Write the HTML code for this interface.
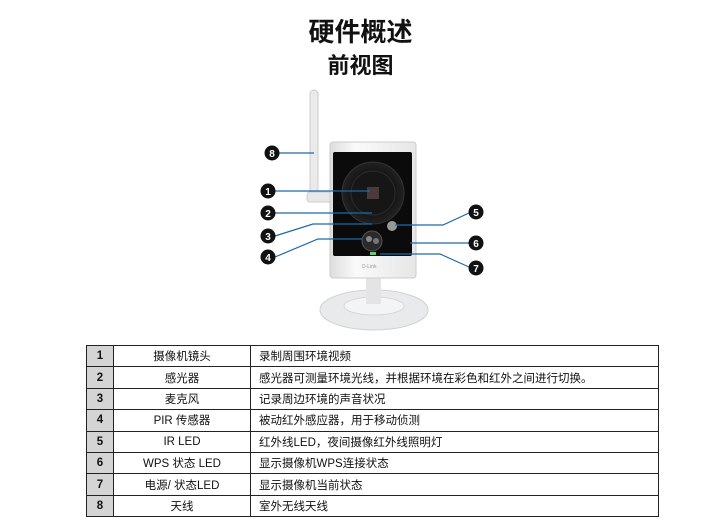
<!DOCTYPE html>
<html><head><meta charset="utf-8"><style>
body{margin:0;width:721px;height:520px;background:#fff;position:relative;font-family:"Liberation Sans","Noto Sans CJK SC",sans-serif;overflow:hidden}
.t{position:absolute;left:0;width:721px;text-align:center;color:#111}
table{position:absolute;left:86px;top:345px;border-collapse:collapse;font-size:11.5px;color:#111}
td{border:1px solid #222;height:20.4px;padding:0}
td.n{width:26px;background:#d4d4d4;text-align:center;font-weight:bold}
td.a{width:136px;text-align:center}
td.b{width:399px;padding-left:8px}
</style></head><body>
<div class="t" style="top:12px;font-size:26px;font-weight:bold">硬件概述</div>
<div class="t" style="top:48px;font-size:22px;font-weight:bold">前视图</div>
<svg width="721" height="340" style="position:absolute;left:0;top:0">
<defs><radialGradient id="lg" cx="50%" cy="50%" r="50%"><stop offset="0" stop-color="#3a3a3a"/><stop offset="0.6" stop-color="#111"/><stop offset="1" stop-color="#222"/></radialGradient>
<linearGradient id="bd" x1="0" x2="1"><stop offset="0" stop-color="#ddd"/><stop offset="0.3" stop-color="#fafafa"/><stop offset="1" stop-color="#e6e6e6"/></linearGradient></defs>
<ellipse cx="374" cy="310" rx="54" ry="20" fill="#e9eaec" stroke="#cfd2d6"/>
<ellipse cx="374" cy="306" rx="30" ry="9" fill="#f4f4f5" stroke="#d8d8da"/>
<rect x="366" y="276" width="15" height="28" fill="#e4e4e6"/>
<rect x="310" y="90" width="8" height="112" rx="4" fill="#eaeaea" stroke="#ccc"/>
<rect x="307" y="192" width="26" height="10" rx="3" fill="#e8e8e8" stroke="#ccc"/>
<rect x="330" y="142" width="86" height="136" rx="3" fill="url(#bd)" stroke="#ccc"/>
<rect x="333" y="152" width="79" height="104" rx="2" fill="#0b0b0b"/>
<circle cx="373" cy="193" r="31" fill="url(#lg)" stroke="#333"/>
<circle cx="373" cy="193" r="22" fill="#161616" stroke="#2c2c2c"/>
<rect x="367" y="187" width="12" height="12" fill="#4a3a3a"/>
<circle cx="372" cy="241" r="10" fill="#2a2a2a" stroke="#555"/>
<circle cx="369" cy="239" r="3" fill="#888"/><circle cx="376" cy="241" r="3" fill="#777"/>
<circle cx="392" cy="226" r="5" fill="#999"/>
<rect x="370" y="252" width="6" height="3" fill="#6c6"/>
<text x="362" y="268" font-size="5" fill="#999">D-Link</text>
<g stroke="#1e6aa8" stroke-width="1.2" fill="none">
<path d="M279 153H314"/><path d="M275 191H370"/><path d="M275 213H372"/>
<path d="M275 236L313 224H372"/><path d="M275 257L318 239H362"/>
<path d="M469 213L443 225H395"/><path d="M469 243H410"/><path d="M469 267L440 254H380"/>
</g>
<g font-size="10" font-weight="bold" fill="#fff" text-anchor="middle">
<circle cx="272" cy="153" r="7.5" fill="#111"/><text x="272" y="157">8</text>
<circle cx="268" cy="191" r="7.5" fill="#111"/><text x="268" y="195">1</text>
<circle cx="268" cy="213" r="7.5" fill="#111"/><text x="268" y="217">2</text>
<circle cx="268" cy="236" r="7.5" fill="#111"/><text x="268" y="240">3</text>
<circle cx="268" cy="257" r="7.5" fill="#111"/><text x="268" y="261">4</text>
<circle cx="476" cy="212" r="7.5" fill="#111"/><text x="476" y="216">5</text>
<circle cx="476" cy="243" r="7.5" fill="#111"/><text x="476" y="247">6</text>
<circle cx="476" cy="268" r="7.5" fill="#111"/><text x="476" y="272">7</text>
</g>
</svg>
<table>
<tr><td class="n">1</td><td class="a">摄像机镜头</td><td class="b">录制周围环境视频</td></tr>
<tr><td class="n">2</td><td class="a">感光器</td><td class="b">感光器可测量环境光线，并根据环境在彩色和红外之间进行切换。</td></tr>
<tr><td class="n">3</td><td class="a">麦克风</td><td class="b">记录周边环境的声音状况</td></tr>
<tr><td class="n">4</td><td class="a">PIR 传感器</td><td class="b">被动红外感应器，用于移动侦测</td></tr>
<tr><td class="n">5</td><td class="a">IR LED</td><td class="b">红外线LED，夜间摄像红外线照明灯</td></tr>
<tr><td class="n">6</td><td class="a">WPS 状态 LED</td><td class="b">显示摄像机WPS连接状态</td></tr>
<tr><td class="n">7</td><td class="a">电源/ 状态LED</td><td class="b">显示摄像机当前状态</td></tr>
<tr><td class="n">8</td><td class="a">天线</td><td class="b">室外无线天线</td></tr>
</table>
</body></html>
